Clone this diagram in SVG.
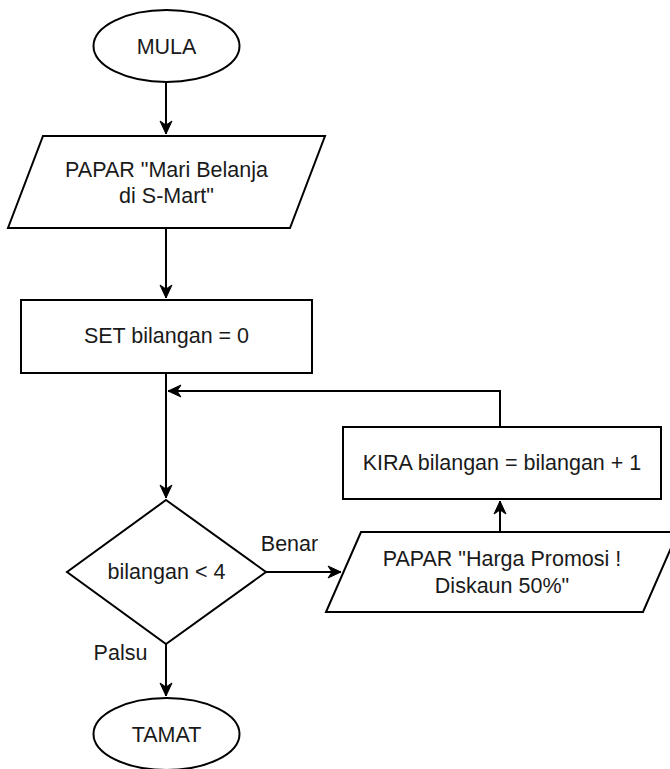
<svg xmlns="http://www.w3.org/2000/svg" width="670" height="769" viewBox="0 0 670 769">
<defs>
<marker id="arr" markerUnits="userSpaceOnUse" markerWidth="14" markerHeight="14" refX="13" refY="7" orient="auto" overflow="visible">
<path d="M0,1 L13,7 L0,13 L4,7 Z" fill="#000" stroke="#000" stroke-width="1" stroke-linejoin="miter"/>
</marker>
<style>
.s{fill:#fff;stroke:#000;stroke-width:2}
.t{font-family:"Liberation Sans",Arial,sans-serif;font-size:21.5px;fill:#1a1a1a;text-anchor:middle}
.c{fill:none;stroke:#000;stroke-width:2}
</style>
</defs>
<rect width="670" height="769" fill="#fff"/>
<g id="connectors">
<path class="c" d="M166,82 L166,134" marker-end="url(#arr)"/>
<path class="c" d="M166,228 L166,298" marker-end="url(#arr)"/>
<path class="c" d="M166,373 L166,498" marker-end="url(#arr)"/>
<path class="c" d="M500,427 L500,391 L168,391" marker-end="url(#arr)"/>
<path class="c" d="M266,572 L341,572" marker-end="url(#arr)"/>
<path class="c" d="M500,532 L500,501" marker-end="url(#arr)"/>
<path class="c" d="M166,644 L166,696" marker-end="url(#arr)"/>
<text class="t" x="289.5" y="551">Benar</text>
<text class="t" x="120.5" y="660">Palsu</text>
</g>
<g id="mula">
<ellipse class="s" cx="166.5" cy="46" rx="73" ry="36"/>
<text class="t" x="166.5" y="53.5">MULA</text>
</g>
<g id="papar1">
<polygon class="s" points="43,136 325,136 290,228 8,228"/>
<text class="t" x="166.5" y="177">PAPAR "Mari Belanja</text>
<text class="t" x="166.5" y="203">di S-Mart"</text>
</g>
<g id="set">
<rect class="s" x="21" y="300" width="291" height="73"/>
<text class="t" x="166.5" y="343">SET bilangan = 0</text>
</g>
<g id="decision">
<polygon class="s" points="166,500 266,572 166,644 67,572"/>
<text class="t" x="166.5" y="579">bilangan &lt; 4</text>
</g>
<g id="kira">
<rect class="s" x="343" y="427" width="318" height="72"/>
<text class="t" x="502" y="470">KIRA bilangan = bilangan + 1</text>
</g>
<g id="papar2">
<polygon class="s" points="361,532 678,532 643,612 326,612"/>
<text class="t" x="502" y="566">PAPAR "Harga Promosi !</text>
<text class="t" x="502" y="593">Diskaun 50%"</text>
</g>
<g id="tamat">
<ellipse class="s" cx="166.5" cy="734" rx="73" ry="36"/>
<text class="t" x="166.5" y="742">TAMAT</text>
</g>
</svg>
